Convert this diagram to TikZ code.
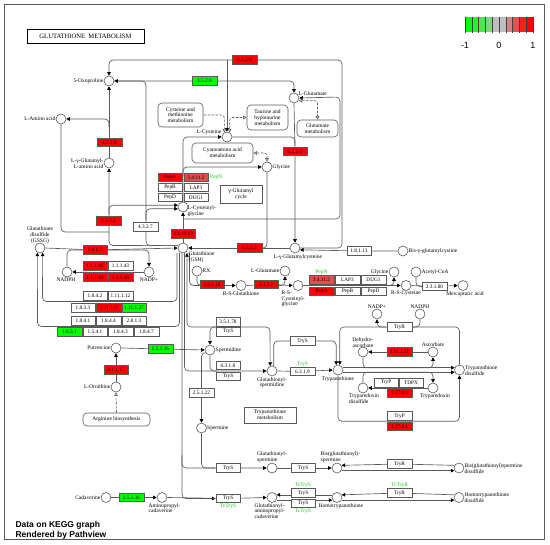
\documentclass[tikz,border=0pt]{standalone}
\usepackage{fontspec}
\setmainfont{Liberation Serif}
\newfontfamily\legendfont{Liberation Sans}
\usetikzlibrary{arrows.meta,positioning}

\definecolor{kred}{HTML}{FF0000}
\definecolor{kgreen}{HTML}{00FF00}
\definecolor{kgray}{HTML}{BEBEBE}
\definecolor{kpink}{HTML}{E54C4C}
\definecolor{kline}{HTML}{5A5A5A}
\definecolor{ktext}{HTML}{11CC11}

\pgfdeclarelayer{bg}
\pgfsetlayers{bg,main}

\tikzset{
  cpd/.style={circle, draw=kline, fill=white, minimum size=10pt, inner sep=0pt, line width=0.6pt},
  enz/.style={draw=kline, fill=white, minimum width=24.5pt, minimum height=8.5pt, inner sep=0pt,
    line width=0.5pt, font=\fontsize{5.3}{5.3}\selectfont},
  up/.style={enz, fill=kred},
  dn/.style={enz, fill=kgreen},
  half/.style={enz, fill=kpink},
  txt/.style={font=\fontsize{5.5}{5.8}\selectfont, inner sep=0.5pt, align=center},
  gtxt/.style={txt, text=ktext},
  mapbox/.style={draw=kline, fill=white, rounded corners=4pt, align=center, inner sep=1pt,
    line width=0.6pt, font=\fontsize{5.5}{5.8}\selectfont},
  plainbox/.style={mapbox, rounded corners=0pt},
  rxn/.style={draw=kline, line width=0.65pt, rounded corners=4pt},
  tip/.style={-{Triangle[length=3.6pt,width=3.6pt,color=black]}},
  tips/.style={{Triangle[length=3.6pt,width=3.6pt,color=black]}-{Triangle[length=3.6pt,width=3.6pt,color=black]}},
  link/.style={draw=kline, dash pattern=on 2.5pt off 1.5pt, line width=0.6pt, rounded corners=3pt},
  hol/.style={-{Triangle[open,length=3.6pt,width=3.6pt,color=kline]}},
  hols/.style={{Triangle[open,length=3.6pt,width=3.6pt,color=kline]}-{Triangle[open,length=3.6pt,width=3.6pt,color=kline]}},
}

\begin{document}
\begin{tikzpicture}[x=1pt,y=-1pt]
    \useasboundingbox (0,0) rectangle (550,545);

    % Frame and title
    \draw[kline, line width=0.8pt] (4,4) rectangle (544,539);
    \node[plainbox, draw=black, line width=0.8pt, minimum width=117pt, minimum height=14pt,
      font=\fontsize{6.6}{7}\selectfont] (title) at (85.5,36) {GLUTATHIONE\ \ METABOLISM};

    % Legend
    \foreach \c [count=\i from 0] in {kgreen, kgreen!82!kgray, kgreen!58!kgray, kgreen!32!kgray, kgray,
      kgray, kred!32!kgray, kred!58!kgray, kred!82!kgray, kred}
      \fill[\c] (465+6.8*\i,17) rectangle ++(6.8,15);
    \foreach \i in {0,...,10}
      \draw[black!75, line width=0.4pt] (465+6.8*\i,17) -- ++(0,16);
    \node[font=\legendfont\fontsize{9}{9}\selectfont] (lgmin) at (465,45) {-1};
    \node[font=\legendfont\fontsize{9}{9}\selectfont] (lgmid) at (499,45) {0};
    \node[font=\legendfont\fontsize{9}{9}\selectfont] (lgmax) at (533,45) {1};

    % Compounds
    \node[cpd] (oxo) at (109,81) {};
    \node[cpd] (aa) at (61,119) {};
    \node[cpd] (ggaa) at (109,163) {};
    \node[cpd] (cys) at (227,137) {};
    \node[cpd] (glu) at (294,98) {};
    \node[cpd] (gly) at (267,167) {};
    \node[cpd] (cysgly) at (183,207) {};
    \node[cpd] (gsh) at (183,248) {};
    \node[cpd] (gssg) at (40,248) {};
    \node[cpd] (ggc) at (295,248) {};
    \node[cpd] (bisggc) at (403,251) {};
    \node[cpd] (nadph) at (67,272) {};
    \node[cpd] (nadp) at (149,272) {};
    \node[cpd] (rx) at (197,271) {};
    \node[cpd] (rsg) at (241,285.5) {};
    \node[cpd] (glu2) at (285,271) {};
    \node[cpd] (rscg) at (298,285.5) {};
    \node[cpd] (gly2) at (394,272) {};
    \node[cpd] (rscys) at (406,285.5) {};
    \node[cpd] (acoa) at (416,272) {};
    \node[cpd] (merc) at (463,285.5) {};
    \node[cpd] (nadp2) at (377,314) {};
    \node[cpd] (nadph2) at (420,314) {};
    \node[cpd] (dha) at (363,352) {};
    \node[cpd] (asc) at (433,352) {};
    \node[cpd] (tryd) at (459.5,370) {};
    \node[cpd] (tryp) at (338,370) {};
    \node[cpd] (gsp) at (272,371) {};
    \node[cpd] (spd) at (210,350) {};
    \node[cpd] (put) at (116,348) {};
    \node[cpd] (orn) at (116,387) {};
    \node[cpd] (spm) at (201.5,428) {};
    \node[cpd] (tpx) at (363,388) {};
    \node[cpd] (tpxr) at (433,388) {};
    \node[cpd] (gspm) at (272,468) {};
    \node[cpd] (bgspm) at (337,468) {};
    \node[cpd] (bgspmd) at (459,468) {};
    \node[cpd] (cad) at (106,497.5) {};
    \node[cpd] (apc) at (162,497.5) {};
    \node[cpd] (gapc) at (272,497.5) {};
    \node[cpd] (htry) at (337,497.5) {};
    \node[cpd] (htryd) at (459,497.5) {};

    % Compound names
    \node[txt, anchor=east] (oxo-t) at (104,81) {5-Oxoproline};
    \node[txt, anchor=east] (aa-t) at (56,119) {L-Amino acid};
    \node[txt, anchor=east, align=right] (ggaa-t) at (104,164) {L-γ-Glutamyl-\\L-amino acid};
    \node[txt, anchor=south east] (cys-t) at (222,135) {L-Cysteine};
    \node[txt, anchor=west] (glu-t) at (298,93.5) {L-Glutamate};
    \node[txt, anchor=west] (gly-t) at (272,167) {Glycine};
    \node[txt, anchor=north west, align=left] (cysgly-t) at (187,205) {L-Cysteinyl-\\glycine};
    \node[txt, anchor=north west, align=left] (gsh-t) at (188,251) {Glutathione\\(GSH)};
    \node[txt, anchor=south] (gssg-t) at (40,244) {Glutathione\\disulfide\\(GSSG)};
    \node[txt, anchor=north] (ggc-t) at (298,253.5) {L-γ-Glutamylcysteine};
    \node[txt, anchor=west] (bisggc-t) at (408,251) {Bis-γ-glutamylcystine};
    \node[txt, anchor=north] (nadph-t) at (66,277) {NADPH};
    \node[txt, anchor=north] (nadp-t) at (149,277) {NADP+};
    \node[txt, anchor=west] (rx-t) at (202,271) {RX};
    \node[txt, anchor=north] (rsg-t) at (241,290.5) {R-S-Glutathione};
    \node[txt, anchor=east] (glu2-t) at (280,271) {L-Glutamate};
    \node[txt, anchor=north west, align=left] (rscg-t) at (281,290) {R-S-\\Cysteinyl-\\glycine};
    \node[txt, anchor=east] (gly2-t) at (389,272) {Glycine};
    \node[txt, anchor=north] (rscys-t) at (406,290.5) {R-S-Cysteine};
    \node[txt, anchor=west] (acoa-t) at (421,272) {Acetyl-CoA};
    \node[txt, anchor=north] (merc-t) at (465,290.5) {Mercapturic acid};
    \node[txt, anchor=south] (nadp2-t) at (377,309) {NADP+};
    \node[txt, anchor=south] (nadph2-t) at (420,309) {NADPH};
    \node[txt, anchor=south] (dha-t) at (363,348) {Dehydro-\\ascorbate};
    \node[txt, anchor=south] (asc-t) at (433,347) {Ascorbate};
    \node[txt, anchor=west, align=left] (tryd-t) at (464.5,371) {Trypanothione\\disulfide};
    \node[txt, anchor=north] (tryp-t) at (338,375.5) {Trypanothione};
    \node[txt, anchor=north] (gsp-t) at (272,376.5) {Glutathionyl-\\spermidine};
    \node[txt, anchor=west] (spd-t) at (215,350) {Spermidine};
    \node[txt, anchor=east] (put-t) at (111,348) {Putrescine};
    \node[txt, anchor=east] (orn-t) at (111,387) {L-Ornithine};
    \node[txt, anchor=west] (spm-t) at (206.5,428) {Spermine};
    \node[txt, anchor=north, align=left] (tpx-t) at (364,393) {Tryparedoxin\\disulfide};
    \node[txt, anchor=north] (tpxr-t) at (435,393) {Tryparedoxin};
    \node[txt, anchor=south, align=left] (gspm-t) at (272,463) {Glutathionyl-\\spermine};
    \node[txt, anchor=south west, align=left] (bgspm-t) at (320,463) {Bis(glutathionyl)-\\spermine};
    \node[txt, anchor=west, align=left] (bgspmd-t) at (464,468.5) {Bis(glutathionyl)spermine\\disulfide};
    \node[txt, anchor=east] (cad-t) at (101,497.5) {Cadaverine};
    \node[txt, anchor=north west, align=left] (apc-t) at (148,502.5) {Aminopropyl-\\cadaverine};
    \node[txt, anchor=north west, align=left] (gapc-t) at (254,502.5) {Glutathionyl-\\aminopropyl-\\cadaverine};
    \node[txt, anchor=north west] (htry-t) at (318,503) {Homotrypanothione};
    \node[txt, anchor=west, align=left] (htryd-t) at (464,498) {Homotrypanothione\\disulfide};

    % Pathway maps
    \node[mapbox, minimum width=45pt, minimum height=24pt] (mcys) at (180.5,115) {Cysteine and\\methionine\\metabolism};
    \node[mapbox, minimum width=41pt, minimum height=25pt] (mtau) at (267.5,117.5) {Taurine and\\hypotaurine\\metabolism};
    \node[mapbox, minimum width=41pt, minimum height=17pt] (mglu) at (317.5,128.5) {Glutamate\\metabolism};
    \node[mapbox, minimum width=61pt, minimum height=20pt] (mcyan) at (222.5,153) {Cyanoamino acid\\metabolism};
    \node[mapbox, minimum width=67pt, minimum height=13pt] (marg) at (116.5,419.5) {Arginine biosynthesis};
    \node[plainbox, minimum width=52pt, minimum height=16pt] (mtry) at (270,415) {Trypanothione\\metabolism};
    \node[plainbox, minimum width=42pt, minimum height=18pt] (mggc) at (241,194) {γ-Glutamyl\\cycle};

    % Enzymes
    \node[up] (e4329a) at (244.5,60) {4.3.2.9};
    \node[dn] (e3529) at (204.5,81) {3.5.2.9};
    \node[up] (e4329b) at (109.5,142.5) {4.3.2.9};
    \node[up] (e6322) at (295,151.5) {6.3.2.2};
    \node[up] (e2322a) at (108.5,221) {2.3.2.2};
    \node[enz] (e4327) at (145.5,227) {4.3.2.7};
    \node[up] (e341913) at (183,234) {3.4.19.13};
    \node[up] (e6323) at (249.5,248) {6.3.2.3};
    \node[up] (e1817) at (95,250) {1.8.1.7};
    \node[enz] (e18113) at (359,251) {1.8.1.13};
    \node[up] (pepA) at (170,177.5) {PepA};
    \node[half] (e34112a) at (196,177.5) {3.4.11.2};
    \node[enz] (pepB) at (170,187.5) {PepB};
    \node[enz] (lap3) at (196,187.5) {LAP3};
    \node[enz] (pepD) at (170,197.5) {PepD};
    \node[enz] (dug1) at (196,197.5) {DUG1};
    \node[gtxt, anchor=west] (pepN) at (209.5,177.5) {PepN};
    \node[up] (e11142) at (95,266) {1.1.1.42};
    \node[enz] (e11143) at (120.5,266) {1.1.1.43};
    \node[up] (e11144) at (95,277.5) {1.1.1.44};
    \node[up] (e11149) at (120.5,277.5) {1.1.1.49};
    \node[enz] (e1842) at (95,296) {1.8.4.2};
    \node[enz] (e111112) at (120.5,296) {1.11.1.12};
    \node[enz] (e1833) at (83,308) {1.8.3.3};
    \node[up] (e11119) at (108.5,308) {1.11.1.9};
    \node[dn] (e111127) at (134,308) {1.11.1.27};
    \node[enz] (e1841) at (83,321) {1.8.4.1};
    \node[enz] (e1844) at (108.5,321) {1.8.4.4};
    \node[enz] (e2813) at (134,321) {2.8.1.3};
    \node[dn] (e1851) at (69.5,332) {1.8.5.1};
    \node[enz] (e1541) at (95,332) {1.5.4.1};
    \node[enz] (e1843) at (120.5,332) {1.8.4.3};
    \node[enz] (e1847) at (146.5,332) {1.8.4.7};
    \node[up] (e25118) at (212,284.5) {2.5.1.18};
    \node[up] (e2322b) at (266,284.5) {2.3.2.2};
    \node[half] (e34112b) at (321.5,280) {3.4.11.2};
    \node[enz] (lap3b) at (347.5,280) {LAP3};
    \node[enz] (dug1b) at (373.5,280) {DUG1};
    \node[up] (pepAb) at (321.5,291.5) {PepA};
    \node[enz] (pepBb) at (347.5,291.5) {PepB};
    \node[enz] (pepDb) at (373.5,291.5) {PepD};
    \node[gtxt, anchor=south] (pepNb) at (321.5,275.5) {PepN};
    \node[enz] (e23180) at (434.5,286.5) {2.3.1.80};
    \node[enz] (e35178) at (228,322) {3.5.1.78};
    \node[enz] (trysA) at (228,331.75) {TryS};
    \node[enz] (e6318) at (228,365.5) {6.3.1.8};
    \node[enz] (trysB) at (228,376.25) {TryS};
    \node[enz] (trysC) at (302.5,341) {TryS};
    \node[enz] (e6319) at (302.5,371.5) {6.3.1.9};
    \node[gtxt, anchor=south] (trysCt) at (302.5,367) {TryS};
    \node[enz] (e25122) at (201.5,393) {2.5.1.22};
    \node[enz] (tryrA) at (399.5,327) {TryR};
    \node[up] (e111111) at (399.5,352) {1.11.1.11};
    \node[enz] (trypA) at (386,382.75) {TryP};
    \node[enz] (tdpx) at (411,382.75) {TDPX};
    \node[up] (e117411a) at (399.5,393) {1.17.4.1};
    \node[enz] (trypB) at (399.5,416) {TryP};
    \node[up] (e117411b) at (399.5,426.5) {1.17.4.1};
    \node[dn] (e25116a) at (160.5,349) {2.5.1.16};
    \node[up] (e41117) at (116,370) {4.1.1.17};
    \node[enz] (trysD) at (228,468) {TryS};
    \node[enz] (trysE) at (303,468) {TryS};
    \node[enz] (tryrB) at (399.5,464) {TryR};
    \node[dn] (e25116b) at (131.5,497.5) {2.5.1.16};
    \node[enz] (trysF) at (228,498.5) {TryS};
    \node[gtxt, anchor=north] (trysFt) at (228,503) {TcTryS};
    \node[enz] (trysG) at (303,493) {TryS};
    \node[enz] (trysH) at (303,503.5) {TryS};
    \node[gtxt, anchor=south] (trysGt) at (303,488.5) {TcTryS};
    \node[gtxt, anchor=north] (trysHt) at (303,508) {TcTryS};
    \node[enz] (tryrC) at (399.5,493) {TryR};
    \node[gtxt, anchor=south] (tryrCt) at (399.5,488.5) {TcTryR};

    % Footer
    \node[font=\legendfont\bfseries\fontsize{8.5}{10}\selectfont, anchor=west, align=left] (foot) at (12,530)
      {Data on KEGG graph\\Rendered by Pathview};

    \begin{pgfonlayer}{bg}
    % gamma-glutamyl cycle
    \draw[rxn,tip] (ggc.east) -- (342,248) -- (342,60) -- (109,60) -- (oxo.north);
    \draw[rxn,tip] (227,60) -- (cys.north);
    \draw[rxn,tip] (oxo.east) -| (glu.north);
    \draw[rxn,tip] (gsh.150) -- (146,245.5) -- (146,81) -- (oxo.east);
    \draw[rxn,tip] (146,220) |- (cysgly.200);
    \draw[rxn,tip] (ggaa.north) -- (oxo.south);
    \draw[rxn,tip] (109,127) |- (aa.east);
    \draw[rxn,tip] (gsh.150) -- (109,245.5) -- (ggaa.south);
    \draw[rxn,tip] (109,214) |- (cysgly.160);
    \draw[rxn] (aa.south) |- (109,232);
    \draw[rxn,tip] (gsh.north) -- (e341913) -- (cysgly.south);
    \draw[rxn,tip] (183,219) -- (340,219) -- (340,97) -- (glu.east);
    \draw[rxn,tip] (glu.south) -- (e6322) -- (ggc.north);
    \draw[rxn] (cys.east) -| (295,146);
    \draw[rxn,tip] (ggc.west) -- (e6323) -- (gsh.east);
    \draw[rxn] (gly.south) |- (258,248);
    \draw[rxn,tip] (cysgly.north) |- (cys.west);
    \draw[rxn,tip] (183,176) |- (gly.west);
    \draw[rxn,tip] (bisggc.west) -- (e18113) -- (ggc.-20);

    % map links
    \draw[link,hol] (mcys.east) -| (cys.120);
    \draw[link,hols] (cys.60) |- (mtau.west);
    \draw[link,hols] (glu.-30) -| (mglu.north);
    \draw[link,hols] (mcyan.east) -| (gly.north);
    \draw[link,hol] (marg.north) -- (orn.south);

    % GSH and GSSG
    \draw[rxn,tip] (gssg.east) -- (e1817) -- (gsh.west);
    \draw[rxn] (nadph.north) |- (e1817.west);
    \draw[rxn,tip] (e1817.east) -| (nadp.north);
    \draw[rxn,tip] (nadp.west) -- (nadph.east);
    \draw[rxn,tip] (177,253) |- (42.5,301.5) -- (gssg.-60);
    \draw[rxn,tip] (179.5,253) |- (37.5,326.5) -- (gssg.-120);

    % glutathione conjugates
    \draw[rxn,tip] (189.5,253) |- (rsg.west);
    \draw[rxn] (rx.south) |- (204,285.5);
    \draw[rxn,tip] (rsg.east) -- (e2322b) -- (rscg.west);
    \draw[rxn,tip] (277,285.5) -| (glu2.south);
    \draw[rxn,tip] (rscg.east) -- (rscys.west);
    \draw[rxn,tip] (386,285.5) -| (gly2.south);
    \draw[rxn,tip] (rscys.east) -- (e23180) -- (merc.west);
    \draw[rxn] (acoa.south) |- (e23180.west);

    % polyamines and trypanothione
    \draw[rxn,tip] (orn.north) -- (e41117) -- (put.south);
    \draw[rxn,tip] (put.east) -- (e25116a) -- (spd.west);
    \draw[rxn,tip] (spd.-150) -| (e25122) -- (spm.north);
    \draw[rxn,tips] (187,253) |- (270,327) -- (gsp.110);
    \draw[rxn,tip] (217,327) -| (spd.north);
    \draw[rxn,tip] (184.5,253) |- (gsp.west);
    \draw[rxn] (spd.south) |- (217,371);
    \draw[rxn,tip] (gsp.70) |- (trysC) -| (tryp.110);
    \draw[rxn,tip] (gsp.east) -- (e6319) -- (tryp.west);
    \draw[rxn,tip] (182,253) |- (trysF.west);
    \draw[rxn] (182,455) |- (trysD.west);
    \draw[rxn,tip] (spm.south) |- (trysD) -- (gspm.west);
    \draw[rxn,tip] (gspm.east) -- (trysE) -- (bgspm.west);
    \draw[rxn,tip] (bgspmd.150) -- (tryrB) -- (bgspm.30);
    \draw[rxn,tip] (bgspm.-30) -- (bgspmd.-150);
    \draw[rxn,tip] (cad.east) -- (e25116b) -- (apc.west);
    \draw[rxn,tip] (apc.east) -- (trysF) -- (gapc.west);
    \draw[rxn,tip] (htry.150) -- (gapc.30);
    \draw[rxn,tip] (gapc.-30) -- (htry.-150);
    \draw[rxn,tip] (htryd.150) -- (tryrC) -- (htry.30);
    \draw[rxn,tip] (htry.-30) -- (htryd.-150);

    % trypanothione redox cycle
    \draw[rxn,tip] (tryd.north) |- (tryrA) -| (tryp.70);
    \draw[rxn,tip] (386,327) -| (nadp2.south);
    \draw[rxn] (nadph2.south) |- (412,327);
    \draw[rxn,tip] (tryp.south) |- (399,421.3) -| (tryd.south);
    \draw[rxn,tip] (tryp.25) -- (tryd.155);
    \draw[rxn,tip] (tryp.-25) -- (tryd.-155);
    \draw[rxn,tip] (asc.west) -- (e111111) -- (dha.east);
    \draw[rxn,tip] (dha.south) |- (398,367.9) -| (asc.south);
    \draw[rxn,tip] (tpx.north) |- (398,372.1) -| (tpxr.north);
    \draw[rxn,tip] (tpxr.west) -- (tpx.east);
    \end{pgfonlayer}
\end{tikzpicture}
\end{document}
